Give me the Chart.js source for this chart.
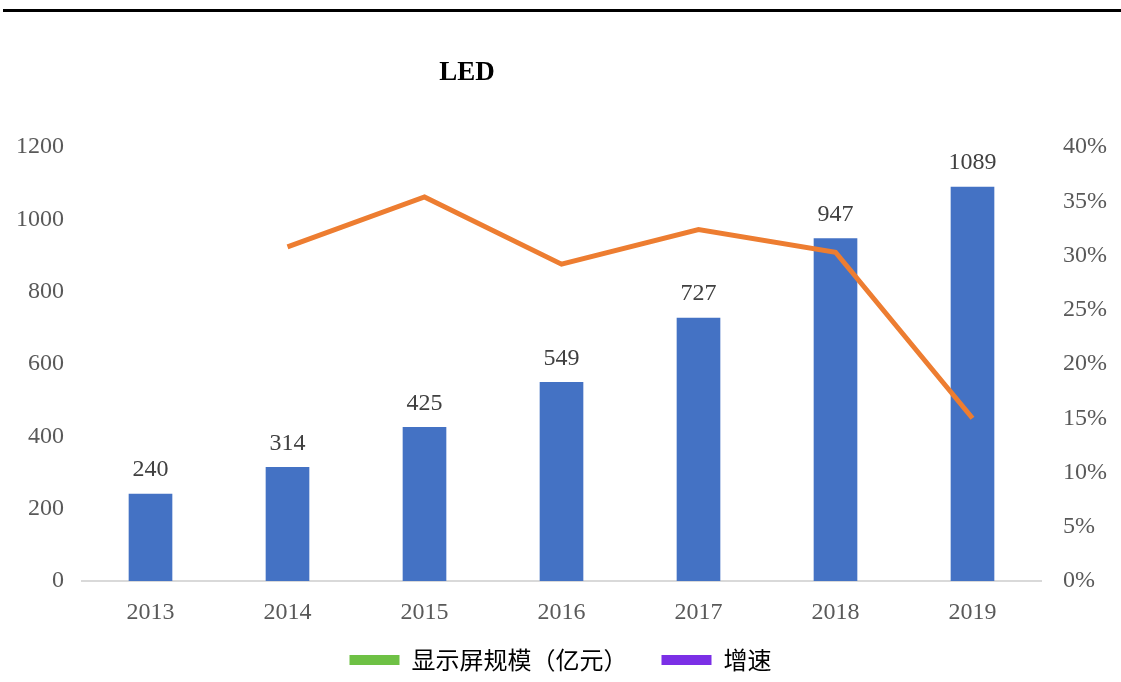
<!DOCTYPE html>
<html>
<head>
<meta charset="utf-8">
<script src="https://cdn.jsdelivr.net/npm/chart.js@4/dist/chart.umd.min.js"></script>
<style>
  html, body { margin: 0; padding: 0; background: #fff; }
  #wrap { position: relative; width: 1121px; height: 682px; }
  #rule { position: absolute; left: 3px; right: 0; top: 9px; height: 3px; background: #000; }
  #title { position: absolute; left: 467px; top: 56px; transform: translateX(-50%);
           font: bold 27px "Liberation Serif", serif; color: #000; }
  #box { position: absolute; left: 0; top: 0; width: 1121px; height: 682px; }
</style>
</head>
<body>
<div id="wrap">
  <div id="box"><canvas id="chart"></canvas></div>
  <div id="rule"></div>
  <div id="title">LED</div>
</div>
<script>
var years = ['2013', '2014', '2015', '2016', '2017', '2018', '2019'];
var scaleValues = [240, 314, 425, 549, 727, 947, 1089];
var growthValues = [null, 30.8, 35.4, 29.2, 32.4, 30.3, 15.0];
var legendNames = ['显示屏规模（亿元）\u3000\u2002', '增速'];

var serif = '"Liberation Serif", "Times New Roman", serif';

// value labels over the bars
var barLabels = {
    id: 'barLabels',
    afterDatasetsDraw: function(chart) {
        var ctx = chart.ctx;
        var meta = chart.getDatasetMeta(1);
        ctx.save();
        ctx.font = '24px ' + serif;
        ctx.fillStyle = '#404040';
        ctx.textAlign = 'center';
        ctx.textBaseline = 'bottom';
        meta.data.forEach(function(bar, i) {
            ctx.fillText(String(scaleValues[i]), bar.x, bar.y - 12);
        });
        ctx.restore();
    }
};

var ctx = document.getElementById('chart').getContext('2d');
var myChart = new Chart(ctx, {
    type: 'bar',
    data: {
        labels: years,
        datasets: [
            {
                type: 'line',
                label: legendNames[1],
                data: growthValues,
                yAxisID: 'y1',
                borderColor: '#ED7D31',
                borderWidth: 5,
                pointRadius: 0,
                tension: 0,
                order: 0
            },
            {
                type: 'bar',
                label: legendNames[0],
                data: scaleValues,
                yAxisID: 'y',
                backgroundColor: '#4472C4',
                barThickness: 43,
                order: 1
            }
        ]
    },
    options: {
        responsive: true,
        maintainAspectRatio: false,
        animation: false,
        layout: { padding: { top: 147, left: 0, right: 0, bottom: 0 } },
        plugins: {
            title: { display: false },
            tooltip: { enabled: false },
            legend: {
                position: 'bottom',
                labels: {
                    font: { family: '"Noto Sans CJK SC", sans-serif', size: 24 },
                    color: '#595959',
                    boxWidth: 50,
                    boxHeight: 10,
                    padding: 10,
                    generateLabels: function() {
                        return [
                            { text: legendNames[0], fillStyle: '#6EC145', strokeStyle: '#6EC145', lineWidth: 0, datasetIndex: 1 },
                            { text: legendNames[1], fillStyle: '#7B2FE6', strokeStyle: '#7B2FE6', lineWidth: 0, datasetIndex: 0 }
                        ];
                    }
                }
            }
        },
        scales: {
            x: {
                grid: { display: false },
                border: { display: true, color: '#D9D9D9', width: 2 },
                ticks: { font: { family: serif, size: 24 }, color: '#595959', padding: 9 },
                afterFit: function(scale) { scale.height = 57; }
            },
            y: {
                position: 'left',
                min: 0, max: 1200,
                ticks: {
                    stepSize: 200,
                    font: { family: serif, size: 24 },
                    color: '#595959',
                    padding: 10,
                    callback: function(v) { return String(v); }
                },
                grid: { display: false },
                border: { display: false },
                afterFit: function(scale) { scale.width = 82; }
            },
            y1: {
                position: 'right',
                min: 0, max: 40,
                ticks: {
                    stepSize: 5,
                    font: { family: serif, size: 24 },
                    color: '#595959',
                    padding: 14,
                    callback: function(v) { return v + '%'; }
                },
                grid: { display: false },
                border: { display: false },
                afterFit: function(scale) { scale.width = 80; }
            }
        }
    },
    plugins: [barLabels]
});
</script>
</body>
</html>
